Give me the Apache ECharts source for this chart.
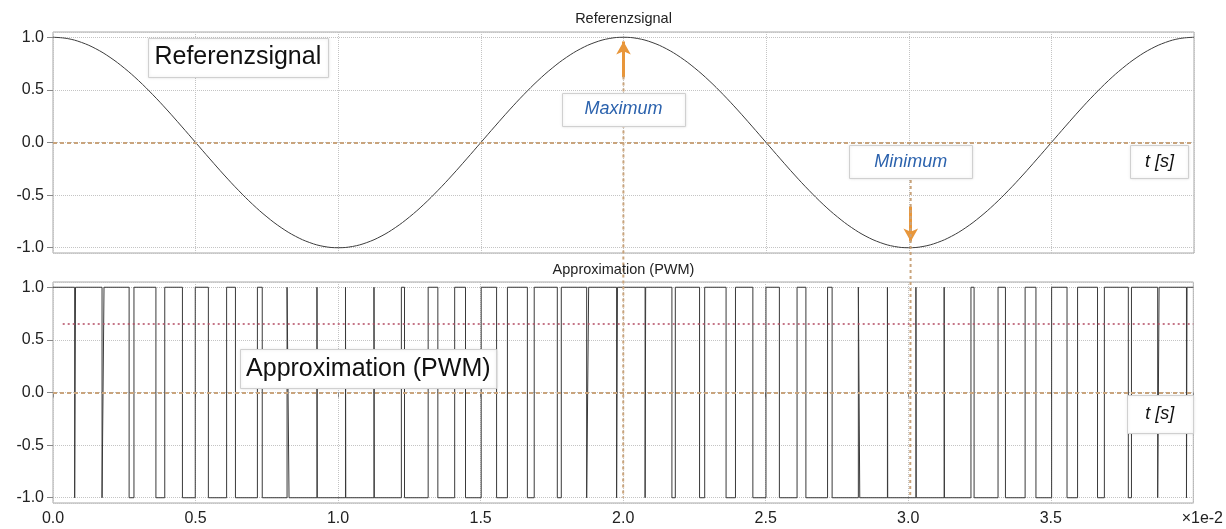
<!DOCTYPE html>
<html>
<head>
<meta charset="utf-8">
<title>Referenzsignal / PWM</title>
<script src="https://cdn.jsdelivr.net/npm/echarts@6/dist/echarts.min.js"></script>
<style>
  html, body { margin: 0; padding: 0; background: #fff; }
  #chart { width: 1226px; height: 529px; }
</style>
</head>
<body>
<div id="chart"></div>
<script>
// Zeit in ms (Schritt 0.5 ms)
const refTime = [0, 0.5, 1, 1.5, 2, 2.5, 3, 3.5, 4, 4.5, 5, 5.5, 6, 6.5, 7, 7.5, 8, 8.5, 9, 9.5,
  10, 10.5, 11, 11.5, 12, 12.5, 13, 13.5, 14, 14.5, 15, 15.5, 16, 16.5, 17, 17.5, 18, 18.5, 19, 19.5,
  20, 20.5, 21, 21.5, 22, 22.5, 23, 23.5, 24, 24.5, 25, 25.5, 26, 26.5, 27, 27.5, 28, 28.5, 29, 29.5,
  30, 30.5, 31, 31.5, 32, 32.5, 33, 33.5, 34, 34.5, 35, 35.5, 36, 36.5, 37, 37.5, 38, 38.5, 39, 39.5, 40];
const refValue = [1.000, 0.988, 0.951, 0.891, 0.809, 0.707, 0.588, 0.454, 0.309, 0.156,
  0.000, -0.156, -0.309, -0.454, -0.588, -0.707, -0.809, -0.891, -0.951, -0.988,
  -1.000, -0.988, -0.951, -0.891, -0.809, -0.707, -0.588, -0.454, -0.309, -0.156,
  0.000, 0.156, 0.309, 0.454, 0.588, 0.707, 0.809, 0.891, 0.951, 0.988,
  1.000, 0.988, 0.951, 0.891, 0.809, 0.707, 0.588, 0.454, 0.309, 0.156,
  0.000, -0.156, -0.309, -0.454, -0.588, -0.707, -0.809, -0.891, -0.951, -0.988,
  -1.000, -0.988, -0.951, -0.891, -0.809, -0.707, -0.588, -0.454, -0.309, -0.156,
  0.000, 0.156, 0.309, 0.454, 0.588, 0.707, 0.809, 0.891, 0.951, 0.988, 1.000];

// PWM: Signal ist +1, ausser zwischen lowStart[i] und lowEnd[i] (ms)
const pwmLowStart = [0.76, 1.72, 2.67, 3.61, 4.54, 5.45, 6.40, 7.34, 8.28, 9.27,
  10.27, 11.27, 12.33, 13.50, 14.47, 15.56, 16.64, 17.69, 18.72, 19.77,
  20.77, 21.71, 22.68, 23.61, 24.55, 25.48, 26.41, 27.33, 28.30, 29.28,
  30.28, 31.27, 32.31, 33.41, 34.48, 35.57, 36.64, 37.72, 38.75, 39.76];
const pwmLowEnd = [0.79, 1.79, 2.84, 3.92, 4.99, 6.09, 7.17, 8.21, 9.26, 10.26,
  11.26, 12.22, 13.16, 14.09, 15.02, 15.94, 16.88, 17.83, 18.79, 19.80,
  20.79, 21.83, 22.86, 23.94, 25.01, 26.10, 27.17, 28.25, 29.27, 30.27,
  31.26, 32.20, 33.15, 34.10, 35.03, 35.94, 36.88, 37.83, 38.80, 39.78];
const pwmHigh = 1;
const pwmLow = -1;
const pwmThreshold = 0.65;
const pwmThresholdStart = 0.34; // ms

const tEnd = 40; // ms
const xUnitLabel = '\u00d71e-2';
const maxTime = 20;   // ms
const minTime = 30.07; // ms

const FONT = '"Liberation Sans", Arial, Helvetica, sans-serif';
const TAN = '#c9a47c';
const ORANGE = '#e8963a';

const refData = refTime.map((t, i) => [t / 1000, refValue[i]]);
const pwmData = [[0, pwmHigh]];
pwmLowStart.forEach((s, i) => {
  const e = pwmLowEnd[i];
  pwmData.push([s / 1000, pwmHigh], [s / 1000, pwmLow], [e / 1000, pwmLow], [e / 1000, pwmHigh]);
});
pwmData.push([tEnd / 1000, pwmHigh]);

const chart = echarts.init(document.getElementById('chart'));

function xAxisFor(grid, labels) {
  return {
    type: 'value', gridIndex: grid, min: 0, max: tEnd / 1000, interval: 0.005,
    axisLine: { show: false },
    axisTick: { show: labels, length: 5, lineStyle: { color: '#888' } },
    axisLabel: {
      show: labels, color: '#222', fontSize: 16, fontFamily: FONT, margin: 8,
      formatter: v => v >= tEnd / 1000 - 1e-9 ? '{u|' + xUnitLabel + '}' : (v * 100).toFixed(1),
      rich: { u: { fontSize: 16, fontFamily: FONT, color: '#222', padding: [0, 0, 0, 18] } }
    },
    splitLine: { show: true, lineStyle: { color: '#c4c4c4', type: 'dotted' } }
  };
}
function yAxisFor(grid) {
  return {
    type: 'value', gridIndex: grid, min: -1.05, max: 1.05,
    axisLine: { show: false },
    axisTick: { show: true, length: 6, lineStyle: { color: '#888' } },
    axisLabel: {
      color: '#222', fontSize: 16, fontFamily: FONT, margin: 9,
      showMinLabel: false, showMaxLabel: false,
      formatter: v => v.toFixed(1)
    },
    splitLine: { show: true, lineStyle: { color: '#c4c4c4', type: 'dotted' } }
  };
}

chart.setOption({
  animation: false,
  grid: [
    { left: 53, right: 32, top: 32, height: 221, show: true, borderColor: '#a8a8a8', borderWidth: 1 },
    { left: 53, right: 32, top: 282, height: 221, show: true, borderColor: '#a8a8a8', borderWidth: 1 }
  ],
  xAxis: [xAxisFor(0, false), xAxisFor(1, true)],
  yAxis: [yAxisFor(0), yAxisFor(1)],
  series: [
    {
      name: 'Referenzsignal', type: 'line', xAxisIndex: 0, yAxisIndex: 0,
      data: refData, smooth: 0.4, showSymbol: false,
      lineStyle: { color: '#3c3c3c', width: 1 },
      markLine: {
        silent: true, symbol: 'none', label: { show: false },
        data: [
          { yAxis: 0, lineStyle: { color: TAN, width: 2, type: [4, 3] } },
          [
            { coord: [maxTime / 1000, 0.62], symbol: 'none', lineStyle: { color: ORANGE, width: 3, type: 'solid' } },
            { coord: [maxTime / 1000, 0.96], symbol: 'arrow', symbolSize: [11, 13], lineStyle: { color: ORANGE, width: 3, type: 'solid' } }
          ],
          [
            { coord: [minTime / 1000, -0.61], symbol: 'none', lineStyle: { color: ORANGE, width: 3, type: 'solid' } },
            { coord: [minTime / 1000, -0.94], symbol: 'arrow', symbolSize: [11, 13], lineStyle: { color: ORANGE, width: 3, type: 'solid' } }
          ]
        ]
      }
    },
    {
      name: 'Approximation (PWM)', type: 'line', xAxisIndex: 1, yAxisIndex: 1,
      data: pwmData, showSymbol: false,
      lineStyle: { color: '#3a3a3a', width: 1 },
      markLine: {
        silent: true, symbol: 'none', label: { show: false },
        data: [
          { yAxis: 0, lineStyle: { color: TAN, width: 2, type: [4, 3] } },
          [
            { coord: [pwmThresholdStart / 1000, pwmThreshold], lineStyle: { color: '#b24a62', width: 1.5, type: [2, 3] } },
            { coord: [tEnd / 1000, pwmThreshold], lineStyle: { color: '#b24a62', width: 1.5, type: [2, 3] } }
          ]
        ]
      }
    }
  ]
});

// Beschriftungen und Hilfslinien in Datenkoordinaten
const px = (g, tMs, v) => chart.convertToPixel({ gridIndex: g }, [tMs / 1000, v]);

const notes = [
  { g: 0, t: 6.48, v: 0.81, w: 180, h: 39, text: 'Referenzsignal', size: 25, italic: false, color: '#111' },
  { g: 0, t: maxTime, v: 0.318, w: 123, h: 33, text: 'Maximum', size: 18, italic: true, color: '#2b62ad' },
  { g: 0, t: minTime, v: -0.185, w: 123, h: 33, text: 'Minimum', size: 18, italic: true, color: '#2b62ad' },
  { g: 0, t: 38.79, v: -0.185, w: 58, h: 33, text: 't [s]', size: 18, italic: true, color: '#111' },
  { g: 1, t: 11.06, v: 0.226, w: 256, h: 39, text: 'Approximation (PWM)', size: 25, italic: false, color: '#111' },
  { g: 1, t: 38.82, v: -0.2, w: 66, h: 38, text: 't [s]', size: 18, italic: true, color: '#111' }
];

const graphics = [];

// senkrechte gestrichelte Linien durch beide Diagramme
[[maxTime, 0.627], [minTime, -0.185]].forEach(([t, v]) => {
  const a = px(0, t, v);
  const b = px(1, t, -1);
  graphics.push({
    type: 'line', z: 50, silent: true,
    shape: { x1: a[0], y1: a[1], x2: b[0], y2: b[1] },
    style: { stroke: TAN, lineWidth: 2, lineDash: [3, 3] }
  });
});

notes.forEach(n => {
  const c = px(n.g, n.t, n.v);
  graphics.push({
    type: 'rect', z: 100, silent: true,
    shape: { x: Math.round(c[0] - n.w / 2) + 0.5, y: Math.round(c[1] - n.h / 2) + 0.5, width: n.w, height: n.h },
    style: { fill: '#fff', stroke: '#d0d0d0', lineWidth: 1, shadowBlur: 3, shadowColor: 'rgba(0,0,0,0.12)' }
  });
  graphics.push({
    type: 'text', z: 101, silent: true, x: c[0], y: c[1],
    style: {
      text: n.text, fill: n.color, align: 'center', verticalAlign: 'middle',
      font: (n.italic ? 'italic ' : '') + n.size + 'px ' + FONT
    }
  });
});

// Titel ueber den Diagrammen
const mid = px(0, tEnd / 2, 0)[0];
[['Referenzsignal', 19], ['Approximation (PWM)', 270]].forEach(([txt, y]) => {
  graphics.push({
    type: 'text', z: 100, silent: true, x: mid, y: y,
    style: { text: txt, fill: '#222', align: 'center', verticalAlign: 'middle', font: '14.5px ' + FONT }
  });
});

chart.setOption({ graphic: graphics });
</script>
</body>
</html>
